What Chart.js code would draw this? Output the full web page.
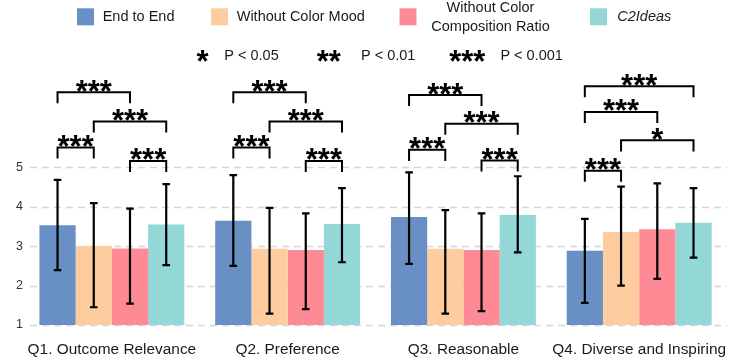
<!DOCTYPE html>
<html>
<head>
<meta charset="utf-8">
<script src="https://cdn.jsdelivr.net/npm/chart.js@4.4.1/dist/chart.umd.min.js"></script>
<style>
  html, body { margin: 0; padding: 0; background: #fff; overflow: hidden; }
  canvas { display: block; }
</style>
</head>
<body>
<canvas id="chart" width="742" height="362"></canvas>
<script>
// categories and series
const questions = ['Q1. Outcome Relevance', 'Q2. Preference', 'Q3. Reasonable', 'Q4. Diverse and Inspiring'];
const seriesNames = ['End to End', 'Without Color Mood', 'Without Color Composition Ratio', 'C2Ideas'];
const seriesColors = ['#6890C4', '#FECD9F', '#FE8A95', '#93D7D6'];

const endToEnd     = [3.53, 3.64, 3.74, 2.88];
const withoutMood  = [3.00, 2.93, 2.93, 3.36];
const withoutRatio = [2.94, 2.90, 2.90, 3.43];
const c2ideas      = [3.55, 3.56, 3.79, 3.59];

// error bar ends (low / high), same order as the series
const errLow = [
  [2.39, 2.50, 2.55, 1.56],
  [1.45, 1.29, 1.29, 2.00],
  [1.54, 1.40, 1.35, 2.17],
  [2.52, 2.59, 2.84, 2.71]
];
const errHigh = [
  [4.68, 4.80, 4.87, 3.69],
  [4.09, 3.97, 3.91, 4.51],
  [3.95, 3.83, 3.83, 4.59],
  [4.57, 4.47, 4.77, 4.47]
];

// significance brackets: [question, from series, to series, height, label]
const sigTests = [
  [0, 0, 2, 6.90, '***'], [0, 1, 3, 6.16, '***'], [0, 0, 1, 5.50, '***'], [0, 2, 3, 5.16, '***'],
  [1, 0, 2, 6.90, '***'], [1, 1, 3, 6.16, '***'], [1, 0, 1, 5.50, '***'], [1, 2, 3, 5.16, '***'],
  [2, 0, 2, 6.83, '***'], [2, 1, 3, 6.10, '***'], [2, 0, 1, 5.44, '***'], [2, 2, 3, 5.17, '***'],
  [3, 0, 3, 7.05, '***'], [3, 0, 2, 6.40, '***'], [3, 1, 3, 5.68, '*'],   [3, 0, 1, 4.91, '***']
];
const sigKey = [['*', 'P < 0.05'], ['**', 'P < 0.01'], ['***', 'P < 0.001']];

const yTicks = [1, 2, 3, 4, 5];

const FONT = '"Liberation Sans", Arial, sans-serif';
const STAR_FONT = 'bold 31px ' + FONT;

function drawStars(ctx, text, cx, cy) {
  ctx.font = STAR_FONT;
  ctx.textAlign = 'center';
  ctx.textBaseline = 'alphabetic';
  const m = ctx.measureText(text);
  const off = (m.actualBoundingBoxAscent - m.actualBoundingBoxDescent) / 2;
  ctx.fillText(text, cx, cy + off);
}

const extras = {
  id: 'extras',
  beforeDatasetsDraw(chart) {
    // dashed horizontal grid, from the y scale ticks
    const ctx = chart.ctx;
    const y = chart.scales.y;
    ctx.save();
    ctx.strokeStyle = '#d6d6d6';
    ctx.lineWidth = 1.7;
    ctx.setLineDash([7, 5]);
    y.ticks.forEach(t => {
      const py = Math.round(y.getPixelForValue(t.value)) + 0.5;
      ctx.beginPath();
      ctx.moveTo(30, py);
      ctx.lineTo(chart.chartArea.right, py);
      ctx.stroke();
    });
    ctx.restore();
  },
  afterDatasetsDraw(chart) {
    const ctx = chart.ctx;
    const y = chart.scales.y;
    ctx.save();
    ctx.strokeStyle = '#000';
    ctx.fillStyle = '#000';

    // error bars
    ctx.lineWidth = 2.2;
    chart.data.datasets.forEach((ds, i) => {
      chart.getDatasetMeta(i).data.forEach((bar, j) => {
        const top = y.getPixelForValue(errHigh[i][j]);
        const bot = y.getPixelForValue(errLow[i][j]);
        ctx.beginPath();
        ctx.moveTo(bar.x, top); ctx.lineTo(bar.x, bot);
        ctx.moveTo(bar.x - 3.8, top); ctx.lineTo(bar.x + 3.8, top);
        ctx.moveTo(bar.x - 3.8, bot); ctx.lineTo(bar.x + 3.8, bot);
        ctx.stroke();
      });
    });

    // brackets
    ctx.lineWidth = 2;
    const tip = 0.28;
    sigTests.forEach(([q, a, b, h, label]) => {
      const x1 = chart.getDatasetMeta(a).data[q].x;
      const x2 = chart.getDatasetMeta(b).data[q].x;
      const yt = y.getPixelForValue(h);
      const yb = y.getPixelForValue(h - tip);
      ctx.beginPath();
      ctx.moveTo(x1, yb); ctx.lineTo(x1, yt); ctx.lineTo(x2, yt); ctx.lineTo(x2, yb);
      ctx.stroke();
      drawStars(ctx, label, (x1 + x2) / 2, yt - 6.5);
    });
    ctx.restore();
  },
  afterDraw(chart) {
    const ctx = chart.ctx;
    ctx.save();
    // legend
    const swX = [77, 211, 399.5, 590];
    ctx.font = '14.5px ' + FONT;
    ctx.textBaseline = 'middle';
    ctx.fillStyle = '#1a1a1a';
    seriesNames.forEach((name, i) => {
      ctx.fillStyle = seriesColors[i];
      ctx.fillRect(swX[i], 8.3, 17, 17);
      ctx.fillStyle = '#1a1a1a';
      if (i === 2) {
        ctx.textAlign = 'center';
        ctx.fillText('Without Color', 490.5, 8);
        ctx.fillText('Composition Ratio', 490.5, 26.5);
      } else {
        ctx.textAlign = 'left';
        ctx.font = (i === 3 ? 'italic ' : '') + '14.5px ' + FONT;
        ctx.fillText(name, swX[i] + (i === 3 ? 27.3 : 25.7), 17);
      }
    });
    // p-value key
    const starX = [202.5, 328.7, 467.3];
    const textX = [224.3, 361, 500.4];
    sigKey.forEach(([s, t], i) => {
      ctx.fillStyle = '#000';
      drawStars(ctx, s, starX[i], 55.5);
      ctx.font = '14.5px ' + FONT;
      ctx.textAlign = 'left';
      ctx.textBaseline = 'middle';
      ctx.fillStyle = '#1a1a1a';
      ctx.fillText(t, textX[i], 55.5);
    });
    ctx.restore();
  }
};

const data = {
  labels: questions,
  datasets: [endToEnd, withoutMood, withoutRatio, c2ideas].map((vals, i) => ({
    label: seriesNames[i],
    data: vals,
    backgroundColor: seriesColors[i],
    borderWidth: 0,
    barPercentage: 1.0,
    categoryPercentage: 0.8245
  }))
};

new Chart(document.getElementById('chart'), {
  type: 'bar',
  data: data,
  plugins: [extras],
  options: {
    responsive: false,
    animation: false,
    layout: { padding: { top: 72, left: 0, right: 0, bottom: 0 } },
    plugins: {
      legend: { display: false },
      tooltip: { enabled: false }
    },
    scales: {
      x: {
        grid: { display: false, drawTicks: false },
        border: { display: false },
        ticks: {
          padding: 16,
          maxRotation: 0,
          autoSkip: false,
          color: '#1a1a1a',
          font: { family: FONT, size: 15.4 }
        },
        afterFit(scale) { scale.height = 37; }
      },
      y: {
        min: 1,
        max: 7.413,
        afterBuildTicks(scale) { scale.ticks = yTicks.map(v => ({ value: v })); },
        afterFit(scale) { scale.width = 24; },
        grid: { display: false, drawTicks: false },
        border: { display: false },
        ticks: {
          padding: 1,
          color: '#333',
          font: { family: FONT, size: 12.5 }
        }
      }
    }
  }
});
</script>
</body>
</html>
